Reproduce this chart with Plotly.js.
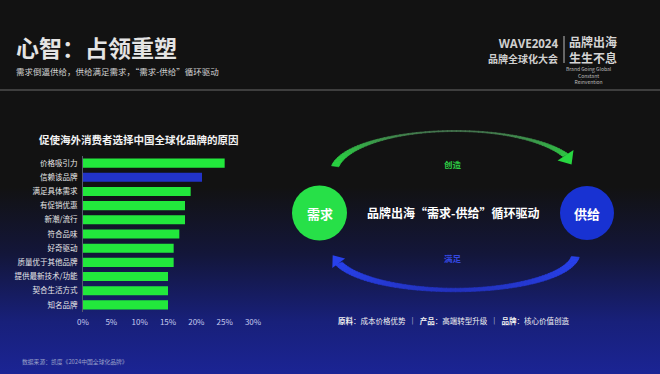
<!DOCTYPE html>
<html><head><meta charset="utf-8">
<script src="https://cdn.plot.ly/plotly-3.0.1.min.js"></script>
<style>
html,body{margin:0;padding:0;background:#121212;}
#chart{width:660px;height:374px;background:linear-gradient(to bottom,#121212 0%,#121212 24%,#121212 50%,#13163a 68%,#18207a 86%,#1b2494 100%);}
</style></head>
<body><div id="chart"></div>
<script>
// ---- data ----
const reasons = ['价格吸引力','信赖该品牌','满足具体需求','有促销优惠','新潮/流行','符合品味','好奇驱动','质量优于其他品牌','提供最新技术/功能','契合生活方式','知名品牌'];
const shares = [0.25,0.21,0.19,0.18,0.18,0.17,0.16,0.16,0.15,0.15,0.15];
const highlight = '信赖该品牌';
const xTicks = [0,0.05,0.10,0.15,0.20,0.25,0.30];

const F = '"Noto Sans CJK SC","Noto Sans",sans-serif';
const W = 660, H = 374;

const barColors = reasons.map(r => r === highlight ? '#2233c8' : '#22e83c');

// ---- helper: tapered elliptical arrow built from segments ----
function lerp(a,b,t){return a+(b-a)*t;}
function rgb(c){return 'rgb('+c.map(v=>Math.round(v)).join(',')+')';}
function arrow(o){
  const shapes=[];
  const P=(t,r)=>{const a=t*Math.PI/180;return [o.cx+(o.rx+r)*Math.cos(a), o.cy-(o.ry+r)*Math.sin(a)];};
  const n=o.n||60;
  for(let i=0;i<n;i++){
    const t0=lerp(o.t0,o.t1,i/n), t1=lerp(o.t0,o.t1,(i+1)/n)+ (i<n-1?0.3*Math.sign(o.t1-o.t0):0);
    const tm=(t0+t1)/2;
    const w=Math.abs(Math.cos(tm*Math.PI/180));
    const h0=o.thick(Math.abs(Math.cos(t0*Math.PI/180)))/2, h1=o.thick(Math.abs(Math.cos(t1*Math.PI/180)))/2;
    const a=P(t0,h0),b=P(t1,h1),c=P(t1,-h1),d=P(t0,-h0);
    const col=rgb(o.colA.map((v,k)=>lerp(o.colB[k],v,Math.pow(w,o.cp||2))));
    shapes.push({type:'path',xref:'x2',yref:'y2',layer:'above',line:{width:0.6,color:col},fillcolor:col,
      path:'M'+a.join(',')+'L'+b.join(',')+'L'+c.join(',')+'L'+d.join(',')+'Z'});
  }
  // head
  const e=P(o.t1,0);
  let dir=o.headDir;
  const perp=[-dir[1],dir[0]];
  const tip=[e[0]+dir[0]*o.hl, e[1]+dir[1]*o.hl];
  const b1=[e[0]+perp[0]*o.hw, e[1]+perp[1]*o.hw], b2=[e[0]-perp[0]*o.hw, e[1]-perp[1]*o.hw];
  shapes.push({type:'path',xref:'x2',yref:'y2',layer:'above',line:{width:0},fillcolor:rgb(o.colA),
    path:'M'+b1.join(',')+'L'+tip.join(',')+'L'+b2.join(',')+'Z'});
  return shapes;
}
function norm(v){const l=Math.hypot(v[0],v[1]);return [v[0]/l,v[1]/l];}

let shapes=[];
// header separator
shapes.push({type:'line',xref:'x2',yref:'y2',x0:0,x1:W,y0:90,y1:90,line:{color:'#3e3e3e',width:2}});
// logo divider
shapes.push({type:'line',xref:'x2',yref:'y2',x0:564,x1:564,y0:36,y1:63,line:{color:'#bbbbbb',width:1}});
// green arrow (top)
shapes=shapes.concat(arrow({cx:455,cy:172,rx:121,ry:41,t0:172,t1:24,n:70,
  thick:w=>1.0+6.5*Math.pow(w,3),colA:[40,215,65],colB:[70,120,80],cp:2.5,
  headDir:norm([0.55,0.84]),hl:11,hw:9.5}));
// blue arrow (bottom)
shapes=shapes.concat(arrow({cx:455,cy:253,rx:121,ry:37,t0:-6,t1:-164,n:70,
  thick:w=>3.5+4.5*Math.pow(w,2),colA:[40,65,235],colB:[35,50,190],cp:1.5,
  headDir:norm([-0.6,-0.8]),hl:10,hw:8}));
// circles
shapes.push({type:'circle',xref:'x2',yref:'y2',x0:292,x1:347,y0:185.5,y1:240.5,fillcolor:'#27e048',line:{width:0}});
shapes.push({type:'circle',xref:'x2',yref:'y2',x0:560,x1:614,y0:186,y1:240,fillcolor:'#1832d2',line:{width:0}});

const ann=[];
function A(x,y,text,size,color,xanchor,extra){ann.push(Object.assign({xref:'x2',yref:'y2',x:x,y:y,text:text,showarrow:false,
  xanchor:xanchor||'center',yanchor:'middle',font:{family:F,size:size,color:color}},extra||{}));}
A(14,47,'<b>心智：占领重塑</b>',23,'#e4e4e4','left');
A(14,71,'需求倒逼供给，供给满足需求，“需求-供给”循环驱动',8.5,'#d2d2d2','left');
A(559,51,'<b><span style="font-family:Open Sans">WAVE2024</span></b><br><b><span style="font-size:10px">品牌全球化大会</span></b>',11.5,'#cfcfcf','right',{align:'right',borderpad:0});
A(568,49,'<b>品牌出海</b><br><b>生生不息</b>',12,'#d4d4d4','left',{align:'left',borderpad:0});
A(589,75,'Brand Going Global<br>Constant<br>Reinvention',5,'#bdbdbd','center',{align:'center',borderpad:0});
A(37,139,'<b>促使海外消费者选择中国全球化品牌的原因</b>',10.5,'#f2f2f2','left');
A(319.5,213,'<b>需求</b>',13,'#ffffff');
A(587,213,'<b>供给</b>',13,'#ffffff');
A(453,212,'<b>品牌出海“需求-供给”循环驱动</b>',12,'#ffffff');
A(453,164,'<b>创造</b>',8.5,'#2ecc45');
A(453,258,'<b>满足</b>',8.5,'#3448e0');
A(453,320,'<b>原料</b>：成本价格优势  ｜  <b>产品</b>：高端转型升级  ｜  <b>品牌</b>：核心价值创造',7.5,'#f0f0f0');
A(20,361,'数据来源：凯度《2024中国全球化品牌》',5.8,'#9aa0c8','left');

const data=[{
  type:'bar',orientation:'h',x:shares,y:reasons,xaxis:'x',yaxis:'y',
  marker:{color:barColors,line:{width:0}},hoverinfo:'skip'
},{type:'scatter',x:[],y:[],xaxis:'x2',yaxis:'y2',showlegend:false,hoverinfo:'skip'}];

const layout={
  width:W,height:H,margin:{l:0,r:0,t:0,b:0},
  paper_bgcolor:'rgba(0,0,0,0)',plot_bgcolor:'rgba(0,0,0,0)',
  showlegend:false,bargap:0.36,
  font:{family:F},
  xaxis:{domain:[83/W,253/W],range:[0,0.30],tickvals:xTicks,tickformat:'.0%',showgrid:false,zeroline:false,
    showline:false,ticks:'',ticklabelstandoff:4,tickfont:{family:F,size:8,color:'#c6cbef'},anchor:'y',fixedrange:true},
  yaxis:{domain:[1-312/H,1-156/H],autorange:'reversed',showgrid:false,zeroline:false,showline:true,
    linecolor:'#555a70',linewidth:1,ticks:'',ticklabelstandoff:3,tickfont:{family:F,size:7.5,color:'#e8e8e8'},anchor:'x',fixedrange:true},
  xaxis2:{domain:[0,1],range:[0,W],visible:false,anchor:'y2',fixedrange:true},
  yaxis2:{domain:[0,1],range:[H,0],visible:false,anchor:'x2',fixedrange:true},
  shapes:shapes,annotations:ann
};
Plotly.newPlot('chart',data,layout,{staticPlot:true,displayModeBar:false});
</script></body></html>
